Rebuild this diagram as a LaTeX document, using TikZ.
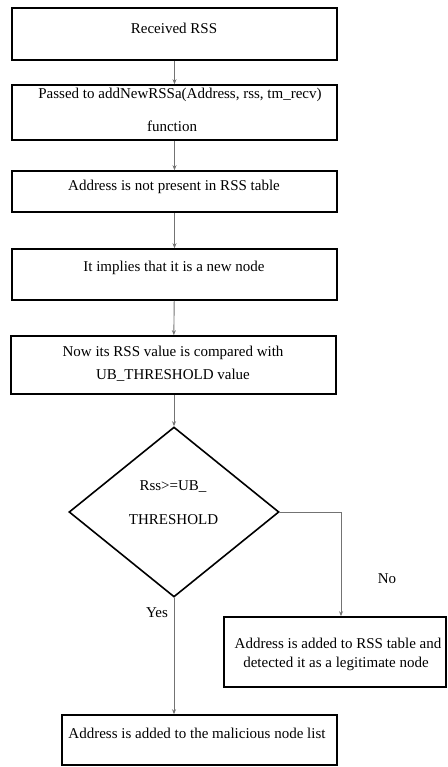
\documentclass[tikz,border=0pt]{standalone}
\usepackage{fontspec}
\setmainfont{Liberation Serif}
\usetikzlibrary{shapes.geometric,arrows.meta}
\tikzset{
  boxnode/.style={draw=black,line width=1.6pt,rectangle,inner sep=0pt},
  decnode/.style={draw=black,line width=1.6pt,diamond,inner sep=0pt,minimum width=210pt,minimum height=170pt},
  txt/.style={inner sep=0pt,font=\fontsize{15}{18}\selectfont},
  conn/.style={draw=black!55,line width=0.9pt,-{Stealth[length=5pt,width=4pt]}},
}
\begin{document}
\begin{tikzpicture}[x=1pt,y=-1pt]
\useasboundingbox (0,0) rectangle (447,767);
% boxes
\node[boxnode,minimum width=325pt,minimum height=52pt] (b1) at (174.5,34) {};
\node[boxnode,minimum width=325pt,minimum height=55pt] (b2) at (174.5,112.5) {};
\node[boxnode,minimum width=325pt,minimum height=41pt] (b3) at (174.5,191.5) {};
\node[boxnode,minimum width=325pt,minimum height=51pt] (b4) at (174.5,274.5) {};
\node[boxnode,minimum width=325pt,minimum height=58pt] (b5) at (173.5,365) {};
\node[decnode] (d) at (174,512) {};
\node[boxnode,minimum width=222pt,minimum height=70pt] (rb) at (335,652) {};
\node[boxnode,minimum width=275pt,minimum height=50pt] (bb) at (199.5,740) {};
% texts
\node[txt] (t1) at (174,28) {Received RSS};
\node[txt] (t2a) at (180,95) {Passed to addNewRSSa(Address, rss, tm\_recv)};
\node[txt] (t2b) at (172,126) {function};
\node[txt] (t3) at (174,187) {Address is not present in RSS table};
\node[txt] (t4) at (174,268) {It implies that it is a new node};
\node[txt] (t5a) at (173,353) {Now its RSS value is compared with};
\node[txt] (t5b) at (173,375) {UB\_THRESHOLD value};
\node[txt] (td1) at (173,487) {Rss>=UB\_};
\node[txt] (td2) at (173.5,520) {THRESHOLD};
\node[txt] (trb1) at (338,643) {Address is added to RSS table and};
\node[txt] (trb2) at (336,664) {detected it as a legitimate node};
\node[txt] (tbb) at (197,733) {Address is added to the malicious node list};
\node[txt] (lno) at (387,579) {No};
\node[txt] (lyes) at (157,613) {Yes};
% connectors
\draw[conn] (b1) -- (b2);
\draw[conn] (b2) -- (b3);
\draw[conn] (b3) -- (b4);
\draw[conn] (b4) -- (b5);
\draw[conn] (b5.south -| d.north) -- (d.north);
\coordinate (rbin) at ([xshift=6pt]rb.north);
\draw[conn] (d.east) -| (rbin);
\draw[conn] (d.south) -- (d.south |- bb.north);
\end{tikzpicture}
\end{document}
